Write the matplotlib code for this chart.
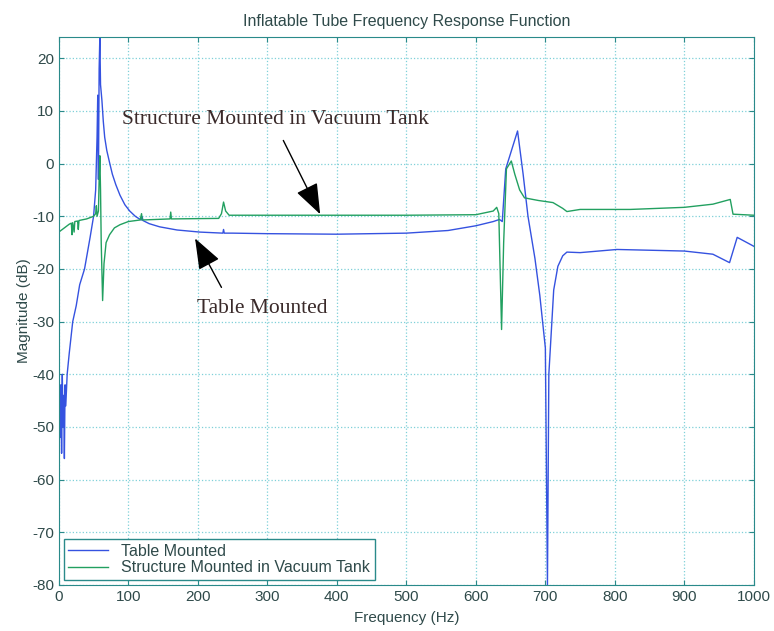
import matplotlib
matplotlib.use("Agg")
import matplotlib.pyplot as plt

# values
table_freq = [0, 0.5, 1, 2, 3, 4, 5, 6, 7, 8, 9, 10, 12, 15, 20, 25, 30, 37, 45, 50,
              53, 55, 56, 57, 58, 59, 60, 62, 64, 66, 69, 73, 77, 82, 88, 95, 102, 110,
              117, 119, 120, 121, 130, 145, 170, 203, 236, 237, 238, 250, 300, 400, 500,
              560, 600, 625, 634, 638, 643, 660, 668, 675, 685, 692, 700, 703, 705, 712,
              718, 725, 731, 750, 803, 900, 941, 965, 976, 1000]
table_db = [-30, -62, -45, -52, -42, -55, -40, -50, -44, -56, -42, -46, -40, -36, -30, -27,
            -23, -20, -14, -10, -5, 5, 13, -3, 18, 24, 15, 12, 8, 5, 2.5, 0.2, -2, -4, -6,
            -7.8, -9, -10, -10.6, -10.7, -10.1, -10.8, -11.4, -12, -12.6, -13, -13.2, -12.5,
            -13.2, -13.2, -13.3, -13.4, -13.2, -12.7, -11.8, -11, -10.6, -11, -1, 6.2, -2,
            -10, -18, -25, -35, -80, -40, -24, -19.5, -17.5, -16.8, -16.9, -16.3, -16.6,
            -17.2, -18.8, -14, -15.7]

struct_freq = [0, 5, 10, 15, 18, 19, 20, 22, 23, 27, 28, 29, 40, 50, 53, 54, 55, 57, 58,
               59, 60, 61, 63, 65, 68, 73, 80, 88, 100, 117, 119, 120, 160, 161, 162, 230,
               234, 237, 240, 245, 400, 500, 600, 625, 630, 633, 637, 640, 644, 651, 656,
               663, 670, 690, 711, 725, 731, 750, 822, 900, 941, 966, 970, 1000]
struct_db = [-13, -12.5, -12, -11.5, -11.3, -13.5, -11.2, -13, -11, -10.9, -12.5, -10.8,
             -10.5, -10, -9.5, -8, -10, -9, -3, 1.5, -5, -15, -26, -19, -15, -13.5, -12.2,
             -11.6, -11, -10.7, -9.5, -10.7, -10.5, -9.2, -10.5, -10.4, -9.5, -7.3, -9,
             -9.8, -9.8, -9.8, -9.7, -9, -8.3, -9.5, -31.5, -15, -1, 0.5, -2, -5, -6.5,
             -7, -7.4, -8.5, -9.1, -8.7, -8.7, -8.3, -7.7, -6.8, -9.6, -9.8]

x_ticks = [0, 100, 200, 300, 400, 500, 600, 700, 800, 900, 1000]
y_ticks = [-80, -70, -60, -50, -40, -30, -20, -10, 0, 10, 20]

text_col = "#2f4a4a"
axis_col = "#2a8a8a"

plt.rcParams["font.family"] = ["Liberation Sans", "DejaVu Sans"]
plt.rcParams["axes.unicode_minus"] = False

fig = plt.figure(figsize=(7.74, 6.31), dpi=100)
ax = fig.add_axes([0.076, 0.073, 0.898, 0.868])

ax.plot(table_freq, table_db, color="#3552e0", lw=1.0, label="Table Mounted")
ax.plot(struct_freq, struct_db, color="#22a060", lw=1.0, label="Structure Mounted in Vacuum Tank")

ax.set_xlim(0, 1000)
ax.set_ylim(-80, 24)
ax.set_xticks(x_ticks)
ax.set_yticks(y_ticks)
ax.grid(True, linestyle=":", color="#7fd0d8", lw=0.9)
ax.tick_params(direction="in", top=True, right=True, colors=axis_col,
               labelcolor=text_col, labelsize=11)
for sp in ax.spines.values():
    sp.set_color(axis_col)

ax.set_title("Inflatable Tube Frequency Response Function", fontsize=11.5, color=text_col, pad=8)
ax.set_xlabel("Frequency (Hz)", fontsize=11, color=text_col, labelpad=5)
ax.set_ylabel("Magnitude (dB)", fontsize=11, color=text_col, labelpad=1)

arrow = dict(arrowstyle="-|>,head_length=1.6,head_width=0.6", color="black", lw=1.0,
             mutation_scale=12, shrinkA=0, shrinkB=0)
ax.annotate("", xy=(376, -9.6), xytext=(323, 4.4), arrowprops=arrow)
ax.text(91, 8.4, "Structure Mounted in Vacuum Tank", fontsize=15.5,
        family="Liberation Serif", color="#3a2a2a", va="center")
ax.annotate("", xy=(196, -14.2), xytext=(234, -23.5), arrowprops=arrow)
ax.text(199, -25.7, "Table Mounted", fontsize=15.5, family="Liberation Serif",
        color="#3a2a2a", va="top")

leg = ax.legend(loc="lower left", fontsize=11.5, fancybox=False, framealpha=1,
                borderaxespad=0.3, handlelength=2.5, labelspacing=0.1,
                borderpad=0.3)
leg.get_frame().set_edgecolor(axis_col)
for t in leg.get_texts():
    t.set_color(text_col)

fig.savefig("out.png", dpi=100)
